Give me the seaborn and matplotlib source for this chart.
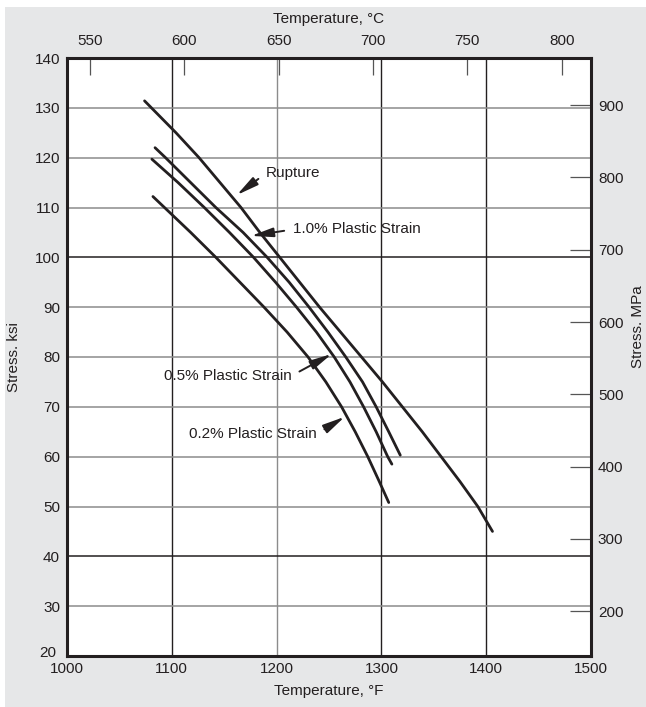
import numpy as np
import pandas as pd
import matplotlib
matplotlib.use("Agg")
import matplotlib.pyplot as plt
import matplotlib.transforms as mtransforms
import seaborn as sns
from matplotlib.patches import Rectangle

sns.set_style("white")
plt.rcParams['font.family'] = ['Liberation Sans', 'DejaVu Sans']

# curves: temperature (F) and stress (ksi)
rupture_f = [1074, 1104, 1126, 1146, 1166, 1184, 1203, 1222, 1241, 1261, 1281,
             1301, 1320, 1339, 1357, 1375, 1392, 1406]
rupture_ksi = [131.4, 125, 120, 115, 110, 105, 100, 95, 90, 85, 80,
               75, 70, 65, 60, 55, 50, 45]

strain10_f = [1084, 1094, 1118, 1142, 1168, 1191, 1212, 1231, 1249, 1266, 1282,
              1295, 1307, 1318]
strain10_ksi = [122, 120, 115, 110, 105, 100, 95, 90, 85, 80, 75,
                70, 65, 60.3]

strain05_f = [1081, 1106, 1131, 1155, 1178, 1199, 1219, 1238, 1255, 1270, 1283,
              1295, 1306, 1310]
strain05_ksi = [119.7, 115, 110, 105, 100, 95, 90, 85, 80, 75, 70,
                65, 60, 58.5]

strain02_f = [1082, 1093, 1118, 1142, 1165, 1188, 1210, 1230, 1247, 1262, 1275,
              1287, 1298, 1307]
strain02_ksi = [112.2, 110, 105, 100, 95, 90, 85, 80, 75, 70, 65,
                60, 55, 50.8]

curve_names = ['Rupture', '1.0% Plastic Strain', '0.5% Plastic Strain', '0.2% Plastic Strain']

f_ticks = [1000, 1100, 1200, 1300, 1400, 1500]
ksi_ticks = [20, 30, 40, 50, 60, 70, 80, 90, 100, 110, 120, 130, 140]
c_ticks = [550, 600, 650, 700, 750, 800]
mpa_ticks = [200, 300, 400, 500, 600, 700, 800, 900]

frames = []
for name, xs, ys in zip(curve_names,
                        [rupture_f, strain10_f, strain05_f, strain02_f],
                        [rupture_ksi, strain10_ksi, strain05_ksi, strain02_ksi]):
    frames.append(pd.DataFrame({'F': xs, 'ksi': ys, 'curve': name}))
df = pd.concat(frames, ignore_index=True)

ink = '#231f20'
fig = plt.figure(figsize=(6.46, 7.07), dpi=100, facecolor='white')
fig.patches.append(Rectangle((5 / 646, 0), 1, 1 - 7 / 707, transform=fig.transFigure,
                             facecolor='#e6e7e8', edgecolor='none', zorder=-10))
ax = fig.add_axes([67 / 646, 1 - 656 / 707, 524 / 646, 598 / 707])
ax.set_facecolor('white')

# grid: some lines darker, like the reference
for f in [1100, 1200, 1300, 1400]:
    ax.axvline(f, color='#8c8c8c' if f == 1200 else ink, lw=1.0, zorder=1)
for k in ksi_ticks[1:-1]:
    ax.axhline(k, color=ink if k in (40, 100) else '#8c8c8c', lw=1.1, zorder=1)

sns.lineplot(data=df, x='F', y='ksi', units='curve', estimator=None, sort=False,
             color=ink, lw=2.0, ax=ax, zorder=3)
for line in ax.get_lines():
    line.set_solid_joinstyle('round')

ax.set_xlim(1000, 1500)
ax.set_ylim(20, 140)
ax.set_xticks(f_ticks)
ax.set_yticks(ksi_ticks)
ax.tick_params(axis='both', length=0, labelsize=11, colors=ink, pad=5)
ax.tick_params(axis='x', pad=4)
ax.set_xlabel('Temperature, °F', fontsize=11, color=ink, labelpad=6)
ax.set_ylabel('Stress. ksi', fontsize=11, color=ink, labelpad=10)
for s in ax.spines.values():
    s.set_linewidth(2.2)
    s.set_color(ink)

# nudge the bottom-left "20" away from "1000"
lbl20 = ax.get_yticklabels()[0]
lbl20.set_transform(lbl20.get_transform() +
                    mtransforms.ScaledTranslation(-3 / 72, 3 / 72, fig.dpi_scale_trans))

top = ax.secondary_xaxis('top', functions=(lambda f: (f - 32) / 1.8, lambda c: c * 1.8 + 32))
top.set_xticks(c_ticks)
top.tick_params(direction='in', length=12, width=0.9, color='#555555', labelsize=11,
                labelcolor=ink, pad=7)
top.set_xlabel('Temperature, °C', fontsize=11, color=ink, labelpad=8)

right = ax.secondary_yaxis('right', functions=(lambda k: k * 6.895, lambda m: m / 6.895))
right.set_yticks(mpa_ticks)
right.tick_params(direction='in', length=15, width=0.9, color='#555555', labelsize=11,
                  labelcolor=ink, pad=5)
right.set_ylabel('Stress. MPa', fontsize=11, color=ink, va='center')
right.yaxis.set_label_coords(1.09, 0.55, transform=ax.transAxes)


def arrow(relpos):
    return dict(arrowstyle='-|>,head_length=0.95,head_width=0.2', lw=1.4, color=ink,
                shrinkA=4, shrinkB=0, mutation_scale=14, relpos=relpos)


ax.annotate('Rupture', xy=(1162, 112.5), xytext=(1190, 116.9), fontsize=11, color=ink,
            va='center', ha='left', arrowprops=arrow((0, 0.5)), zorder=5)
ax.annotate('1.0% Plastic Strain', xy=(1175.6, 104.3), xytext=(1215.6, 105.6), fontsize=11,
            color=ink, va='center', ha='left', arrowprops=arrow((0, 0.5)), zorder=5)
ax.annotate('0.5% Plastic Strain', xy=(1252.6, 80.6), xytext=(1214, 76.2), fontsize=11,
            color=ink, va='center', ha='right', arrowprops=arrow((1, 0.5)), zorder=5)
ax.annotate('0.2% Plastic Strain', xy=(1265, 68.0), xytext=(1238, 64.5), fontsize=11,
            color=ink, va='center', ha='right', arrowprops=arrow((1, 0.5)), zorder=5)

fig.savefig('out.png', dpi=100, facecolor=fig.get_facecolor())
